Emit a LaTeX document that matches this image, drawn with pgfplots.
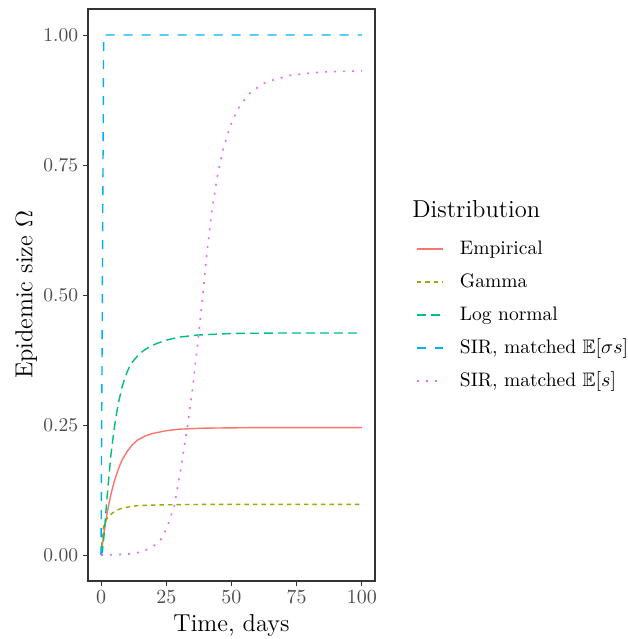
\documentclass[border=0pt]{standalone}
\usepackage{pgfplots}
\pgfplotsset{compat=1.18}
\usepackage{amssymb}

\definecolor{empred}{HTML}{F8766D}
\definecolor{gamolive}{HTML}{A3A500}
\definecolor{lngreen}{HTML}{00BF7D}
\definecolor{sirblue}{HTML}{00B0F6}
\definecolor{sirpink}{HTML}{E76BF3}
\definecolor{tickgray}{HTML}{4D4D4D}
\definecolor{framegray}{HTML}{333333}

\pgfplotsset{
  empstyle/.style={draw=empred, line width=0.7pt, solid},
  gamstyle/.style={draw=gamolive, line width=0.7pt, dash pattern=on 2.25pt off 2pt},
  lnstyle/.style={draw=lngreen, line width=0.7pt, dash pattern=on 4.5pt off 2.5pt},
  sirstyle/.style={draw=sirblue, line width=0.7pt, dash pattern=on 4.5pt off 4.5pt},
  sirsstyle/.style={draw=sirpink, line width=0.8pt, dash pattern=on 1pt off 3.5pt},
}

\begin{document}
\begin{tikzpicture}
\path[use as bounding box] (0,0) rectangle (314pt,319.5pt);
\begin{axis}[
  at={(44pt,29pt)}, anchor=south west,
  scale only axis, width=143.5pt, height=286pt,
  xmin=-5, xmax=105, ymin=-0.05, ymax=1.05,
  xtick={0,25,50,75,100},
  ytick={0,0.25,0.5,0.75,1},
  yticklabels={0.00,0.25,0.50,0.75,1.00},
  tick align=outside, tick pos=left,
  major tick length=2.5pt,
  tick style={framegray, line width=0.5pt},
  axis line style={framegray, line width=0.6pt},
  ticklabel style={font=\fontsize{9.75}{11}\selectfont, text=tickgray, inner sep=0pt},
  xticklabel style={anchor=north, yshift=-2pt},
  yticklabel style={anchor=east, xshift=-2.25pt},
  xlabel={Time, days},
  ylabel={Epidemic size $\Omega$},
  label style={font=\fontsize{12.25}{14}\selectfont, inner sep=0pt},
  xlabel style={at={(axis description cs:0.5,-0.0886)}, anchor=base},
  ylabel style={at={(axis description cs:-0.1934,0.5)}, anchor=base},
  legend cell align=left,
  legend image code/.code={\draw[#1, line width=1pt] (0pt,0.25pt) -- (13pt,0.25pt);},
  legend style={draw=none, fill=none, inner sep=0pt, outer sep=0pt,
    at={(1.14286,0.5949)}, anchor=north west,
    font=\fontsize{9.75}{11}\selectfont,
    row sep=7.7pt, column sep=8pt,
    nodes={inner sep=0pt, text height=6.8pt, text depth=2pt}},
]
\addlegendimage{empstyle}
\addlegendentry{Empirical}
\addlegendimage{gamstyle}
\addlegendentry{Gamma}
\addlegendimage{lnstyle}
\addlegendentry{Log normal}
\addlegendimage{sirstyle}
\addlegendentry{SIR, matched $\mathbb{E}[\sigma s]$}
\addlegendimage{sirsstyle}
\addlegendentry{SIR, matched $\mathbb{E}[s]$}

\addplot[empstyle, forget plot] coordinates {
 (0,0) (1,0.038) (2,0.071) (3,0.098) (4,0.121) (5,0.140) (6,0.156)
 (7,0.170) (8,0.182) (10,0.199) (12,0.212) (14,0.221) (17,0.229)
 (20,0.234) (25,0.239) (30,0.242) (40,0.244) (60,0.245) (100,0.245)};
\addplot[gamstyle, forget plot] coordinates {
 (0,0) (0.5,0.035) (1,0.055) (1.5,0.063) (2,0.068) (3,0.074) (4,0.079)
 (5,0.083) (6,0.086) (8,0.090) (10,0.092) (14,0.095) (20,0.096)
 (30,0.097) (50,0.0975) (100,0.0975)};
\addplot[lnstyle, forget plot] coordinates {
 (0,0) (0.5,0.006) (1,0.03) (1.5,0.06) (2,0.092) (2.5,0.122) (3,0.15)
 (3.8,0.193) (5.1,0.245) (6,0.274) (7,0.300) (8,0.322) (9,0.338)
 (10,0.352) (11,0.363) (12,0.371) (14,0.383) (16,0.392) (18.4,0.400)
 (21,0.406) (24.8,0.413) (30,0.419) (37,0.423) (50,0.426)
 (70,0.427) (100,0.427)};
\addplot[sirstyle, forget plot] coordinates {
 (0,0) (1,1) (100,1)};
\addplot[sirsstyle, forget plot] coordinates {
 (0,0) (5,0.0005) (10,0.0015) (14,0.0045) (17.2,0.0096) (20.3,0.018)
 (22.9,0.030) (25.4,0.054) (28,0.093) (30.5,0.163) (33.1,0.247)
 (35,0.317) (36.9,0.400) (38.8,0.490) (40.5,0.577) (42.5,0.663)
 (44.7,0.732) (46.9,0.783) (50.1,0.833) (53.2,0.864) (57.5,0.891)
 (63.4,0.910) (73,0.923) (85,0.929) (100,0.931)};
\end{axis}
\node[anchor=base west, inner sep=0pt, font=\fontsize{12.25}{14}\selectfont] at (206pt,210.8pt) {Distribution};
\end{tikzpicture}
\end{document}
